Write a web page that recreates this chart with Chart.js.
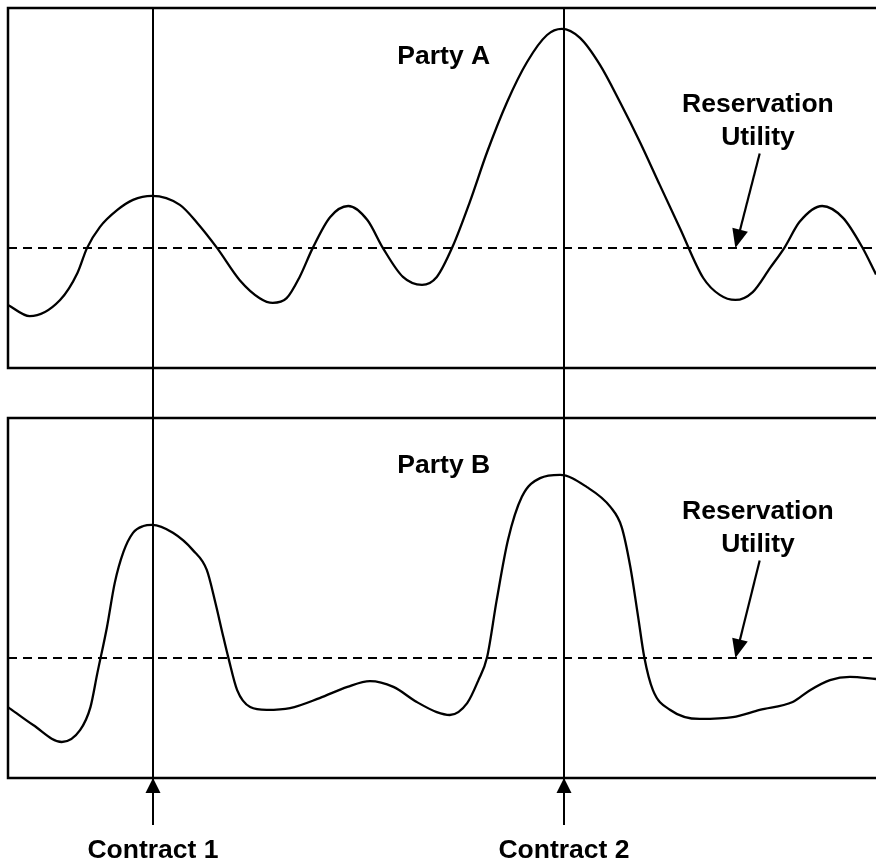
<!DOCTYPE html>
<html>
<head>
<meta charset="utf-8">
<script src="https://cdn.jsdelivr.net/npm/chart.js@4/dist/chart.umd.min.js"></script>
<style>
  html, body { margin: 0; padding: 0; background: #fff; overflow: hidden; }
  #wrap { position: relative; width: 876px; height: 862px; }
  .panel { position: absolute; left: 0; width: 876px; }
  #topBox { top: 0; height: 410px; }
  #bottomBox { top: 410px; height: 452px; }
</style>
</head>
<body>
<div id="wrap">
  <div class="panel" id="topBox"><canvas id="partyA" width="876" height="410"></canvas></div>
  <div class="panel" id="bottomBox"><canvas id="partyB" width="876" height="452"></canvas></div>
</div>
<script>
// Time axis runs 0..100, utility axis 0..100 in both panels

// Party A utility over time
const timeA = [0, 2.5, 6.0, 8.0, 9.1, 10.6, 12.6, 14.4, 16.6, 19.8, 21.8, 24.1, 26.7, 29.0, 30.5, 32.1,
  33.6, 35.1, 37.1, 39.2, 41.4, 43.2, 45.5, 47.7, 49.4, 51.2, 53.2, 55.2, 57.5, 59.8, 62.1, 63.8,
  65.9, 68.2, 70.5, 72.8, 75.1, 77.4, 80.1, 82.0, 83.8, 85.8, 87.8, 89.5, 91.2, 93.8, 96.2, 98.4, 100];
const utilityA = [17.5, 14.4, 18.9, 26.4, 33.3, 39.2, 43.9, 46.7, 47.8, 45.3, 40.3, 33.3, 24.4, 19.4, 18.1, 19.4,
  25.3, 33.3, 41.9, 45.0, 41.1, 33.3, 25.3, 23.1, 25.3, 33.6, 46.1, 60.0, 73.9, 85.0, 92.5, 94.2,
  91.7, 84.2, 73.9, 62.8, 50.8, 38.9, 25.0, 20.3, 18.9, 21.1, 27.8, 33.6, 40.6, 45.0, 41.7, 33.6, 26.0];

// Party B utility over time
const timeB = [0, 2.9, 6.2, 8.3, 9.5, 10.3, 11.4, 12.3, 13.3, 14.4, 15.6, 16.6, 19.0, 21.3, 22.9, 23.9,
  24.7, 25.4, 26.4, 27.9, 29.8, 32.5, 35.9, 39.1, 41.7, 44.4, 47.1, 49.4, 50.9, 52.9, 54.2, 55.2,
  56.3, 57.6, 59.2, 61.3, 63.6, 66.7, 69.4, 70.7, 71.7, 72.6, 73.3, 74.3, 76.3, 79.7, 83.5, 86.6,
  90.4, 92.4, 94.7, 97.0, 100];
const utilityB = [19.7, 14.7, 10.0, 13.3, 19.7, 29.2, 41.9, 54.2, 62.8, 68.1, 70.0, 70.3, 68.1, 63.3, 57.8, 48.6,
  40.3, 33.3, 24.4, 19.7, 18.9, 19.4, 22.2, 25.3, 26.9, 25.3, 21.1, 18.3, 17.5, 20.8, 27.2, 33.6,
  49.4, 66.1, 78.1, 83.3, 84.2, 80.8, 75.3, 69.7, 58.6, 44.7, 33.6, 24.4, 18.9, 16.4, 16.9, 18.9,
  21.1, 24.4, 27.2, 28.1, 27.5];

const reservationA = 33.3;
const reservationB = 33.3;

const contractTimes = [16.7, 64.1];
const contractLabels = ['Contract 1', 'Contract 2'];

const FONT = 'bold 26.5px "Liberation Sans", Arial, sans-serif';

function toPoints(xs, ys) {
  return xs.map((t, i) => ({ x: t, y: ys[i] }));
}

function arrowHead(ctx, x0, y0, x1, y1, len, half) {
  const ang = Math.atan2(y1 - y0, x1 - x0);
  ctx.beginPath();
  ctx.moveTo(x1, y1);
  ctx.lineTo(x1 - len * Math.cos(ang) + half * Math.sin(ang), y1 - len * Math.sin(ang) - half * Math.cos(ang));
  ctx.lineTo(x1 - len * Math.cos(ang) - half * Math.sin(ang), y1 - len * Math.sin(ang) + half * Math.cos(ang));
  ctx.closePath();
  ctx.fill();
}

// Frame, contract lines and labels for one panel
function decorPlugin(cfg) {
  return {
    id: 'decor',
    afterDatasetsDraw(chart) {
      const { ctx, chartArea: a, scales: { x, y } } = chart;
      ctx.save();
      ctx.strokeStyle = '#000';
      ctx.fillStyle = '#000';

      // box: top, left and bottom (right side runs off the page)
      ctx.lineWidth = 2.5;
      ctx.beginPath();
      ctx.moveTo(chart.width + 5, a.top);
      ctx.lineTo(a.left, a.top);
      ctx.lineTo(a.left, a.bottom);
      ctx.lineTo(chart.width + 5, a.bottom);
      ctx.stroke();

      // contract lines
      ctx.lineWidth = 2;
      contractTimes.forEach((t, i) => {
        const px = Math.round(x.getPixelForValue(t));
        ctx.beginPath();
        if (cfg.arrows) {
          ctx.moveTo(px, 0);
          ctx.lineTo(px, a.bottom + 47);
        } else {
          ctx.moveTo(px, a.top);
          ctx.lineTo(px, chart.height);
        }
        ctx.stroke();
        if (cfg.arrows) {
          arrowHead(ctx, px, a.bottom + 30, px, a.bottom, 15, 7.5);
          ctx.font = FONT;
          ctx.textAlign = 'center';
          ctx.textBaseline = 'middle';
          ctx.fillText(contractLabels[i], px, a.bottom + 73);
        }
      });

      // panel title
      ctx.font = FONT;
      ctx.textAlign = 'center';
      ctx.textBaseline = 'middle';
      ctx.fillText(cfg.title, x.getPixelForValue(50.2), y.getPixelForValue(cfg.titleY));

      // reservation utility note and arrow
      const tx = x.getPixelForValue(86.4);
      ctx.fillText('Reservation', tx, y.getPixelForValue(cfg.noteY));
      ctx.fillText('Utility', tx, y.getPixelForValue(cfg.noteY - 9));
      const x0 = x.getPixelForValue(86.6), y0 = y.getPixelForValue(cfg.noteY - 13.5);
      const x1 = x.getPixelForValue(83.8), y1 = y.getPixelForValue(cfg.reservation);
      ctx.lineWidth = 2.2;
      ctx.beginPath();
      ctx.moveTo(x0, y0);
      ctx.lineTo(x1 + (x0 - x1) * 0.12, y1 + (y0 - y1) * 0.12);
      ctx.stroke();
      arrowHead(ctx, x0, y0, x1, y1, 19, 8);
      ctx.restore();
    }
  };
}

function makeChart(id, times, values, reservation, cfg, padding) {
  return new Chart(document.getElementById(id), {
    type: 'line',
    data: {
      datasets: [
        {
          data: toPoints(times, values),
          borderColor: '#000',
          borderWidth: 2.3,
          pointRadius: 0,
          cubicInterpolationMode: 'monotone',
          fill: false
        },
        {
          data: [{ x: 0, y: reservation }, { x: 100, y: reservation }],
          borderColor: '#000',
          borderWidth: 2,
          borderDash: [9, 6],
          pointRadius: 0,
          fill: false
        }
      ]
    },
    options: {
      responsive: false,
      animation: false,
      devicePixelRatio: 1,
      layout: { padding: padding },
      plugins: {
        legend: { display: false },
        tooltip: { enabled: false }
      },
      scales: {
        x: { type: 'linear', min: 0, max: 100, display: false },
        y: { min: 0, max: 100, display: false }
      }
    },
    plugins: [decorPlugin(Object.assign({ reservation: reservation }, cfg))]
  });
}

makeChart('partyA', timeA, utilityA, reservationA,
  { title: 'Party A', titleY: 86.4, noteY: 73.1, arrows: false },
  { left: 8, top: 8, right: 0, bottom: 42 });

makeChart('partyB', timeB, utilityB, reservationB,
  { title: 'Party B', titleY: 86.7, noteY: 73.9, arrows: true },
  { left: 8, top: 8, right: 0, bottom: 84 });
</script>
</body>
</html>
